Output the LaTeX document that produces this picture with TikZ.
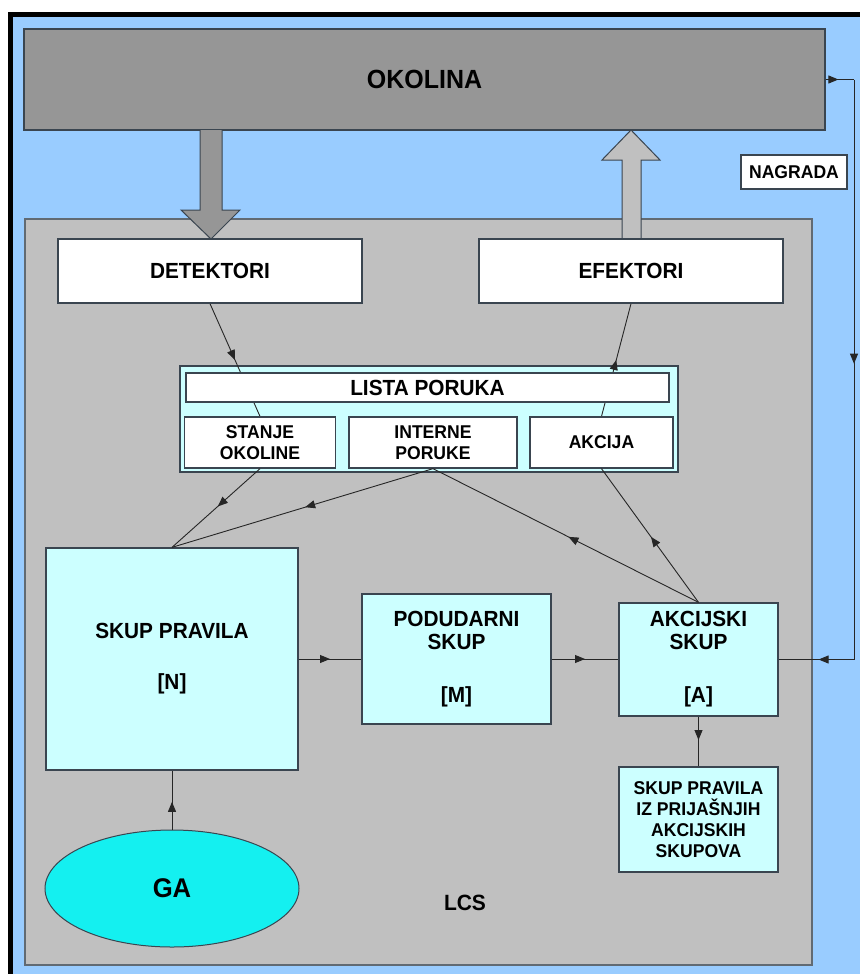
\documentclass[tikz,border=0pt]{standalone}
\usepackage{fontspec}
\setmainfont{Liberation Sans}[FakeStretch=0.95]
\usetikzlibrary{arrows.meta,decorations.markings,shapes.geometric,calc}
\pgfdeclarelayer{bgl}
\pgfdeclarelayer{midl}
\pgfsetlayers{bgl,midl,main}
\definecolor{bgblue}{HTML}{99CCFF}
\definecolor{envgray}{HTML}{969696}
\definecolor{lcsgray}{HTML}{C0C0C0}
\definecolor{lcyan}{HTML}{CCFFFF}
\definecolor{gacyan}{RGB}{20,240,240}
\definecolor{edge}{HTML}{3A4550}
\tikzset{
  box/.style={draw=edge, line width=1.3pt, rectangle, inner sep=0pt, align=center,
    font=\bfseries\fontsize{21.9}{23}\selectfont},
  whitebox/.style={box, fill=white},
  cyanbox/.style={box, fill=lcyan},
  smalltext/.style={font=\bfseries\fontsize{18.5}{21}\selectfont},
  conn/.style={draw=black!85, line width=0.9pt},
  midarrow/.style={postaction={decorate, decoration={markings,
    mark=at position #1 with {\arrow{Triangle[length=10pt,width=8pt]}}}}},
  midarrow/.default=0.5,
  bigarrow/.style={draw=edge, line width=1pt},
}
\begin{document}
\begin{tikzpicture}[x=1pt,y=-1pt]
\useasboundingbox (0,0) rectangle (860,974);
\begin{pgfonlayer}{bgl}
  \fill[white] (0,0) rectangle (860,974);
  \fill[black] (8,12) rectangle (860,974);
  \fill[bgblue] (13,17) rectangle (860,974);
  \node[box, fill=envgray, minimum width=801pt, minimum height=101pt,
        font=\bfseries\fontsize{26.3}{28}\selectfont] (okolina) at (424.5,79.5) {OKOLINA};
  \node[box, fill=lcsgray, draw=edge!80, minimum width=787pt, minimum height=746pt] (lcs) at (418.5,592) {};
  % big arrows
  \filldraw[bigarrow, fill=envgray] (200,130) -- (200,210) -- (181,210) -- (211,239)
        -- (240,210) -- (222,210) -- (222,130);
  \filldraw[bigarrow, fill=lcsgray] (622,239) -- (622,160) -- (602,160) -- (631,130)
        -- (660,160) -- (641,160) -- (641,239);
  \node[box, fill=lcyan, minimum width=498pt, minimum height=106pt] (lista) at (429,419) {};
\end{pgfonlayer}

\node[whitebox, minimum width=304pt, minimum height=64pt] (det) at (210,271) {DETEKTORI};
\node[whitebox, minimum width=304pt, minimum height=64pt] (efe) at (631,271) {EFEKTORI};
\node[whitebox, minimum width=106pt, minimum height=34pt, smalltext] (nagrada) at (794,172) {NAGRADA};

\node[whitebox, minimum width=483pt, minimum height=29pt] (listain) at (427.5,387.5) {LISTA PORUKA};
\node[whitebox, smalltext, minimum width=151pt, minimum height=51pt] (stanje) at (260,442.5) {STANJE\\OKOLINE};
\node[whitebox, smalltext, minimum width=168pt, minimum height=51pt] (interne) at (433,442.5) {INTERNE\\PORUKE};
\node[whitebox, smalltext, minimum width=143pt, minimum height=51pt] (akcija) at (601.5,442.5) {AKCIJA};

\node[cyanbox, minimum width=252pt, minimum height=222pt] (skup) at (172,659) {SKUP PRAVILA\\[28pt][N]};
\node[cyanbox, minimum width=189pt, minimum height=130pt] (pod) at (456.5,659) {PODUDARNI\\SKUP\\[30pt][M]};
\node[cyanbox, minimum width=159pt, minimum height=113pt] (akc) at (698.5,659.5) {AKCIJSKI\\SKUP\\[30pt][A]};
\node[cyanbox, smalltext, minimum width=159pt, minimum height=105pt] (prior) at (698.5,819.5)
  {SKUP PRAVILA\\IZ PRIJAŠNJIH\\AKCIJSKIH\\SKUPOVA};

\node[ellipse, draw=edge, line width=1pt, fill=gacyan, minimum width=254pt, minimum height=117pt,
      inner sep=0pt, font=\bfseries\fontsize{27}{28}\selectfont] (ga) at (172,888.5) {GA};
\node[font=\bfseries\fontsize{22.1}{24}\selectfont] (lcslabel) at (465,903) {LCS};

\begin{pgfonlayer}{midl}
  \draw[conn, midarrow] (det.south) -- (stanje.north);
  \draw[conn, midarrow] (akcija.north) -- (efe.south);
\end{pgfonlayer}

\draw[conn, midarrow=0.48] (stanje.south) -- (skup.north);
\draw[conn, midarrow=0.49] (interne.south) -- (skup.north);
\draw[conn, midarrow=0.49] (akc.north) -- (interne.south);
\draw[conn, midarrow=0.49] (akc.north) -- (akcija.south);
\draw[conn, midarrow] (skup.east) -- (pod.west);
\draw[conn, midarrow] (pod.west -| pod.east) -- (akc.west |- pod.east);
\draw[conn, midarrow=0.47] (akc.south) -- (prior.north);
\draw[conn, midarrow=0.47] (ga.north) -- (skup.south);

\coordinate (r1) at (854,79.5);
\coordinate (r2) at (854,659.5);
\draw[conn, midarrow=0.45] (okolina.east) -- (r1);
\draw[conn, midarrow=0.49] (r1) -- (r2);
\draw[conn, midarrow=0.47] (r2) -- (akc.east);
\end{tikzpicture}
\end{document}
